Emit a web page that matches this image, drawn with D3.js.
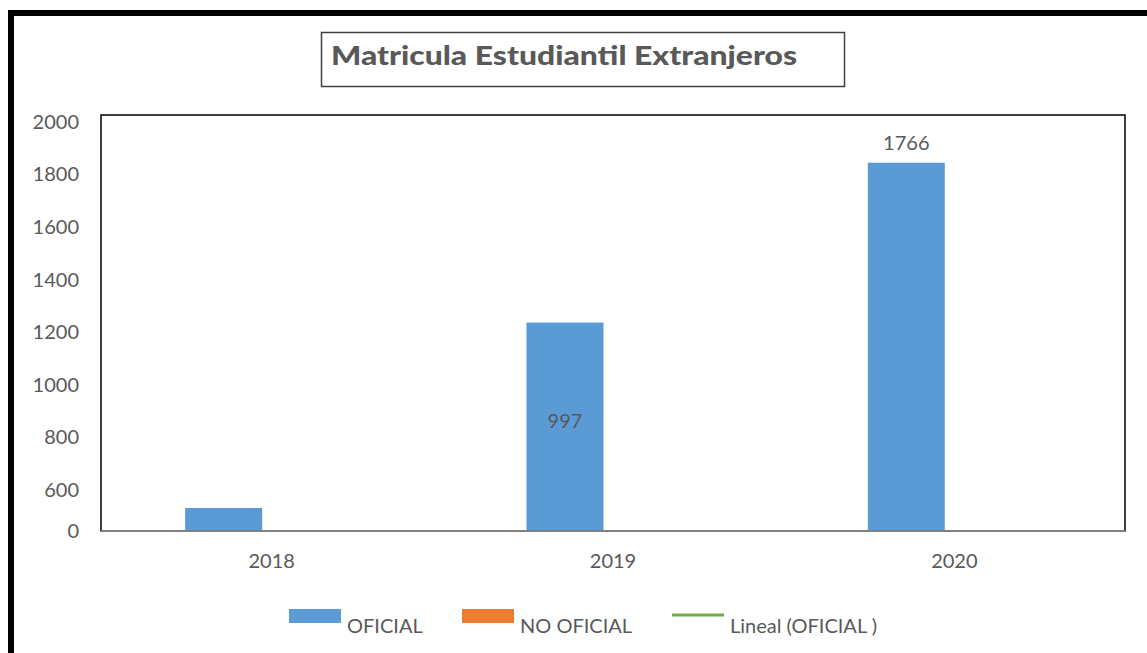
<!DOCTYPE html>
<html lang="es">
<head>
    <meta charset="UTF-8">
    <title>Matricula Estudiantil Extranjeros</title>
    <script src="https://d3js.org/d3.v7.min.js"></script>
    <style>
        body { margin: 0; background: #fff; font-family: Lato, "Open Sans", sans-serif; }
        text { fill: #595959; }
    </style>
</head>
<body>
    <script>
        // data
        const years = ["2018", "2019", "2020"];
        const series = ["OFICIAL", "NO OFICIAL"];
        const oficial = [337, 1237, 1845];
        const noOficial = [0, 0, 0];
        const barLabels = ["", "997", "1766"];
        const yTicks = [0, 600, 800, 1000, 1200, 1400, 1600, 1800, 2000];
        const colors = ["#5B9BD5", "#ED7D31"];

        const W = 1147, H = 653;
        const plot = { left: 101, top: 115, right: 1125, bottom: 531 };

        const svg = d3.select("body").append("svg")
            .attr("width", W)
            .attr("height", H);

        // outer frame
        svg.append("rect")
            .attr("x", 11).attr("y", 13)
            .attr("width", W + 20).attr("height", H + 20)
            .attr("fill", "none")
            .attr("stroke", "#000")
            .attr("stroke-width", 6);

        // title box
        svg.append("rect")
            .attr("x", 321.5).attr("y", 32.5)
            .attr("width", 523).attr("height", 54)
            .attr("fill", "#fff")
            .attr("stroke", "#404040")
            .attr("stroke-width", 1.5);
        svg.append("text")
            .attr("x", 331).attr("y", 65)
            .attr("font-size", 27)
            .attr("font-weight", 900)
            .attr("textLength", 466)
            .attr("lengthAdjust", "spacingAndGlyphs")
            .text("Matricula Estudiantil Extranjeros");

        // scales (the y axis of the original is broken between 0 and 600)
        const x0 = d3.scaleBand()
            .domain(years)
            .range([plot.left, plot.right])
            .paddingInner(0.493)
            .paddingOuter(0.2465);
        const x1 = d3.scaleBand()
            .domain(series)
            .range([0, x0.bandwidth()])
            .paddingInner(0.198);
        const y = d3.scaleLinear()
            .domain([0, 600, 2000])
            .range([plot.bottom, 490, 122]);

        // plot area border
        svg.append("rect")
            .attr("x", plot.left).attr("y", plot.top)
            .attr("width", plot.right - plot.left)
            .attr("height", plot.bottom - plot.top)
            .attr("fill", "none")
            .attr("stroke", "#000")
            .attr("stroke-width", 1.5);

        // bars
        const rows = years.map((yr, i) => ({ year: yr, values: [oficial[i], noOficial[i]], label: barLabels[i] }));
        const groups = svg.selectAll("g.grp")
            .data(rows)
            .enter()
            .append("g")
            .attr("class", "grp")
            .attr("transform", d => `translate(${x0(d.year)},0)`);

        groups.selectAll("rect")
            .data(d => d.values.map((v, j) => ({ key: series[j], value: v, color: colors[j] })))
            .enter()
            .append("rect")
            .attr("x", d => x1(d.key))
            .attr("y", d => y(d.value))
            .attr("width", x1.bandwidth())
            .attr("height", d => y(0) - y(d.value))
            .attr("fill", d => d.color);

        // data labels
        groups.append("text")
            .attr("x", x1("OFICIAL") + x1.bandwidth() / 2)
            .attr("y", (d, i) => i === 1 ? (y(d.values[0]) + y(0)) / 2 + 1 : y(d.values[0]) - 13)
            .attr("text-anchor", "middle")
            .attr("font-size", 20)
            .text(d => d.label);

        // x axis line
        svg.append("line")
            .attr("x1", plot.left).attr("x2", plot.right)
            .attr("y1", plot.bottom).attr("y2", plot.bottom)
            .attr("stroke", "#7f7f7f")
            .attr("stroke-width", 2);

        // y tick labels
        const yAxis = svg.append("g")
            .attr("transform", `translate(${plot.left},0)`)
            .call(d3.axisLeft(y).tickValues(yTicks).tickFormat(d3.format("d")).tickSize(0).tickPadding(22));
        yAxis.select(".domain").remove();
        yAxis.selectAll("text")
            .attr("font-family", "Lato, sans-serif")
            .attr("font-size", 20)
            .attr("fill", "#595959");

        // x tick labels
        const xAxis = svg.append("g")
            .attr("transform", `translate(0,${plot.bottom})`)
            .call(d3.axisBottom(x0).tickSize(0).tickPadding(30));
        xAxis.select(".domain").remove();
        xAxis.selectAll("text")
            .attr("font-family", "Lato, sans-serif")
            .attr("font-size", 20)
            .attr("fill", "#595959")
            .attr("dy", "0.35em");

        // legend
        const legend = [
            { name: "OFICIAL", type: "rect", color: colors[0], x: 289 },
            { name: "NO OFICIAL", type: "rect", color: colors[1], x: 462 },
            { name: "Lineal (OFICIAL )", type: "line", color: "#70AD47", x: 672 }
        ];
        const lg = svg.selectAll("g.leg")
            .data(legend)
            .enter()
            .append("g")
            .attr("class", "leg")
            .attr("transform", d => `translate(${d.x},609)`);
        lg.filter(d => d.type === "rect").append("rect")
            .attr("width", 52).attr("height", 14)
            .attr("fill", d => d.color);
        lg.filter(d => d.type === "line").append("line")
            .attr("x1", 0).attr("x2", 52)
            .attr("y1", 6).attr("y2", 6)
            .attr("stroke", d => d.color)
            .attr("stroke-width", 3);
        lg.append("text")
            .attr("x", 58).attr("y", 24)
            .attr("font-size", 20)
            .text(d => d.name);
    </script>
</body>
</html>
